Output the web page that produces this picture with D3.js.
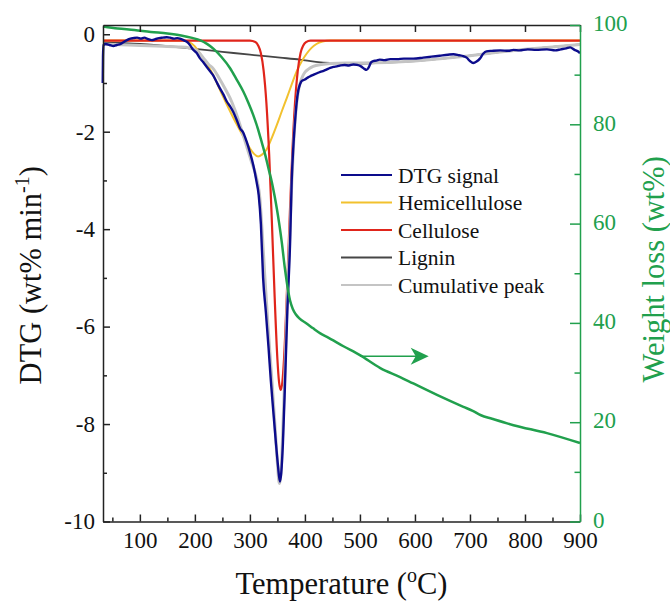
<!DOCTYPE html>
<html>
<head>
<meta charset="utf-8">
<script src="https://cdn.jsdelivr.net/npm/d3@7"></script>
<style>
  body { margin: 0; background: #fff; }
  svg text { font-family: "Liberation Serif", "Times New Roman", serif; }
</style>
</head>
<body>
<div id="chart"></div>
<script>
// temperature (°C), DTG (wt% min-1)
const dtgSignal = [
  [32.5,-1.0],[33,-0.45],[34,-0.22],[38,-0.2],[45,-0.22],[52,-0.24],[58,-0.22],[65,-0.2],[72,-0.15],
  [80,-0.1],[88,-0.08],[95,-0.07],[102,-0.09],[108,-0.07],[115,-0.1],[122,-0.12],[128,-0.1],[135,-0.08],
  [142,-0.07],[149,-0.06],[155,-0.07],[162,-0.09],[168,-0.08],[175,-0.1],[181,-0.13],[186,-0.16],
  [191,-0.22],[197,-0.32],[203,-0.38],[209,-0.49],[215,-0.57],[221,-0.66],[227,-0.75],[233,-0.84],
  [239,-0.97],[245,-1.1],[252,-1.24],[258,-1.38],[264,-1.48],[270,-1.6],[276,-1.76],[282,-1.93],
  [288,-2.02],[294,-2.2],[300,-2.42],[306,-2.68],[312,-3.02],[316,-3.3],[320,-3.9],[324,-5.0],
  [329,-5.7],[334,-6.45],[338,-7.1],[343,-7.8],[347,-8.35],[351,-8.85],[354.5,-9.18],[357,-9.0],
  [360,-8.4],[364,-7.1],[368,-5.7],[373,-4.3],[376,-3.0],[379,-2.3],[382,-1.8],[385,-1.4],[388,-1.15],
  [391,-1.03],[394,-0.96],[400,-0.93],[405,-0.89],[410,-0.86],[416,-0.83],[422,-0.8],[428,-0.77],
  [434,-0.75],[440,-0.72],[446,-0.69],[452,-0.67],[458,-0.66],[465,-0.64],[472,-0.63],[480,-0.64],
  [488,-0.62],[495,-0.63],[502,-0.66],[508,-0.71],[512,-0.73],[516,-0.68],[520,-0.58],[524,-0.55],
  [530,-0.54],[536,-0.52],[545,-0.53],[555,-0.51],[567,-0.51],[580,-0.5],[597,-0.5],[615,-0.48],
  [630,-0.46],[645,-0.44],[660,-0.42],[670,-0.41],[680,-0.43],[688,-0.45],[694,-0.48],[700,-0.55],
  [706,-0.59],[712,-0.56],[718,-0.5],[724,-0.4],[730,-0.35],[740,-0.34],[755,-0.33],[770,-0.34],
  [779,-0.32],[790,-0.33],[805,-0.31],[820,-0.32],[840,-0.31],[855,-0.33],[865,-0.31],[875,-0.29],
  [882,-0.27],[890,-0.32],[896,-0.35],[900,-0.39]
];
const hemicellulose = [
  [33,-0.13],[180,-0.13],[190,-0.16],[200,-0.25],[209,-0.39],[220,-0.58],[233,-0.83],[248,-1.2],
  [264,-1.58],[276,-1.85],[288,-2.1],[300,-2.34],[308,-2.46],[315,-2.51],[322,-2.47],[330,-2.37],
  [340,-2.12],[349,-1.86],[358,-1.58],[367,-1.31],[376,-1.03],[385,-0.76],[394,-0.56],[403,-0.4],
  [412,-0.28],[421,-0.2],[432,-0.15],[446,-0.13],[900,-0.13]
];
const cellulose = [
  [33,-0.13],[300,-0.13],[310,-0.16],[315,-0.23],[320,-0.39],[325,-0.75],[330,-1.41],[335,-2.46],
  [340,-3.86],[345,-5.39],[350,-6.67],[353,-7.14],[356,-7.3],[359,-7.14],[362,-6.67],[367,-5.39],
  [372,-3.86],[377,-2.46],[382,-1.41],[387,-0.75],[392,-0.39],[397,-0.23],[402,-0.16],[410,-0.13],
  [900,-0.13]
];
const lignin = [
  [33,-0.16],[100,-0.2],[173,-0.27],[250,-0.36],[300,-0.42],[355,-0.48],[391,-0.52],[420,-0.565],
  [446,-0.59],[475,-0.6],[506,-0.6],[550,-0.58],[600,-0.55],[650,-0.5],[700,-0.44],[750,-0.37],
  [800,-0.31],[850,-0.26],[900,-0.21]
];
const cumulative = [
  [33,-0.2],[80,-0.22],[130,-0.24],[170,-0.26],[190,-0.28],[203,-0.33],[215,-0.48],[225,-0.62],
  [233,-0.7],[245,-0.92],[255,-1.12],[264,-1.31],[273,-1.56],[282,-1.86],[290,-2.15],[297,-2.41],
  [303,-2.62],[309,-2.82],[314,-3.05],[318,-3.35],[322,-4.0],[327,-4.95],[333,-6.0],[340,-7.1],
  [346,-8.1],[350,-8.8],[353.5,-9.22],[357,-8.9],[361,-7.77],[364,-6.8],[367,-5.72],[370,-4.85],
  [373,-4.0],[376,-3.1],[379,-2.35],[382,-1.8],[385,-1.42],[388,-1.17],[392,-0.98],[396,-0.86],
  [400,-0.78],[407,-0.71],[415,-0.66],[430,-0.62],[446,-0.6],[475,-0.59],[506,-0.59],[550,-0.58],
  [600,-0.55],[650,-0.5],[700,-0.44],[750,-0.37],[800,-0.31],[850,-0.26],[900,-0.21]
];
// temperature (°C), weight (wt%)
const weightLoss = [
  [33,99.7],[60,99.3],[90,99.0],[120,98.6],[150,98.3],[175,97.9],[195,97.4],[210,96.9],[222,96.2],
  [234,95.2],[248,93.6],[264,91.3],[276,89.0],[288,86.6],[297,84.4],[306,81.9],[314,79.3],
  [321,76.6],[328,73.8],[334,71.0],[340,68.3],[345,65.5],[349,63.0],[353,60.2],[358,56.2],
  [363,51.5],[367,48.3],[370,46.2],[373,44.5],[378,42.8],[383,41.8],[390,40.9],[403,39.9],
  [415,38.9],[428,37.9],[440,37.2],[470,35.3],[500,33.5],[537,30.9],[573,29.1],[597,27.8],
  [640,25.5],[688,23.1],[705,22.3],[720,21.4],[740,20.7],[779,19.4],[840,17.8],[900,15.8]
];
const arrowT = [500, 625];
const arrowWt = 33.3;

const xTicks = [100, 200, 300, 400, 500, 600, 700, 800, 900];
const xMinor = [50, 150, 250, 350, 450, 550, 650, 750, 850];
const yTicks = [0, -2, -4, -6, -8, -10];
const yMinor = [-1, -3, -5, -7, -9];
const wTicks = [0, 20, 40, 60, 80, 100];
const wMinor = [10, 30, 50, 70, 90];

const seriesNames = ["DTG signal", "Hemicellulose", "Cellulose", "Lignin", "Cumulative peak"];
const seriesColors = ["#0c0c8c", "#f2c12e", "#e0251b", "#464646", "#c4c4c4"];
const GREEN = "#21a04d";

const width = 670, height = 602;
const margin = { top: 25, right: 90, bottom: 80.5, left: 103 };

const svg = d3.select("#chart").append("svg")
    .attr("width", width)
    .attr("height", height);

const x = d3.scaleLinear().domain([33, 900]).range([margin.left, width - margin.right]);
const yL = d3.scaleLinear().domain([-10, 0.19]).range([height - margin.bottom, margin.top]);
const yR = d3.scaleLinear().domain([0, 100]).range([height - margin.bottom, margin.top]);

const line = d3.line()
    .x(d => x(d[0]))
    .y(d => yL(d[1]))
    .curve(d3.curveMonotoneX);

const wline = d3.line()
    .x(d => x(d[0]))
    .y(d => yR(d[1]))
    .curve(d3.curveMonotoneX);

// Curves
const curves = svg.append("g").attr("fill", "none");
curves.append("path").datum(lignin).attr("d", line)
    .attr("stroke", seriesColors[3]).attr("stroke-width", 1.8);
curves.append("path").datum(hemicellulose).attr("d", line)
    .attr("stroke", seriesColors[1]).attr("stroke-width", 2);
curves.append("path").datum(cellulose).attr("d", line)
    .attr("stroke", seriesColors[2]).attr("stroke-width", 2.2);
curves.append("path").datum(cumulative).attr("d", line)
    .attr("stroke", seriesColors[4]).attr("stroke-width", 3);
curves.append("path").datum(dtgSignal).attr("d", line)
    .attr("stroke", seriesColors[0]).attr("stroke-width", 2.4);
curves.append("path").datum(weightLoss).attr("d", wline)
    .attr("stroke", GREEN).attr("stroke-width", 2.5);

// Arrow pointing to right axis
const ax0 = x(arrowT[0]), ax1 = x(arrowT[1]), ay = yR(arrowWt);
svg.append("line")
    .attr("x1", ax0).attr("x2", ax1 - 10)
    .attr("y1", ay).attr("y2", ay)
    .attr("stroke", GREEN).attr("stroke-width", 1.5);
svg.append("path")
    .attr("d", `M${ax1},${ay} L${ax1 - 18},${ay - 8.5} L${ax1 - 13},${ay} L${ax1 - 18},${ay + 8.5} Z`)
    .attr("fill", GREEN);

// Axes
function styleAxis(g, color) {
    g.selectAll("path.domain").attr("stroke", color).attr("stroke-width", 1.5);
    g.selectAll(".tick line").attr("stroke", color).attr("stroke-width", 1.5);
    g.selectAll(".tick text").attr("fill", color).style("font-size", "23px")
        .style("font-family", "'Liberation Serif', serif");
}

const yB = height - margin.bottom;
const xR = width - margin.right;

svg.append("g").attr("transform", `translate(0,${margin.top})`)
    .call(d3.axisTop(x).tickValues(xTicks).tickSize(-7).tickSizeOuter(0).tickFormat(""))
    .call(g => styleAxis(g, "#222"));

svg.append("g").attr("transform", `translate(0,${yB})`)
    .call(d3.axisBottom(x).tickValues(xMinor).tickSize(-4).tickSizeOuter(0).tickFormat(""))
    .call(g => g.select(".domain").remove())
    .call(g => styleAxis(g, "#222"));
svg.append("g").attr("transform", `translate(0,${yB})`)
    .call(d3.axisBottom(x).tickValues(xTicks).tickSize(-7).tickSizeOuter(0).tickPadding(10).tickFormat(d => String(d)))
    .call(g => styleAxis(g, "#222"))
    .call(g => g.selectAll(".tick text").attr("fill", "#111"));

svg.append("g").attr("transform", `translate(${margin.left},0)`)
    .call(d3.axisLeft(yL).tickValues(yMinor).tickSize(-4).tickSizeOuter(0).tickFormat(""))
    .call(g => g.select(".domain").remove())
    .call(g => styleAxis(g, "#222"));
svg.append("g").attr("transform", `translate(${margin.left},0)`)
    .call(d3.axisLeft(yL).tickValues(yTicks).tickSize(-7).tickSizeOuter(0).tickPadding(8).tickFormat(d => String(d)))
    .call(g => styleAxis(g, "#222"))
    .call(g => g.selectAll(".tick text").attr("fill", "#111"));

svg.append("g").attr("transform", `translate(${xR},0)`)
    .call(d3.axisRight(yR).tickValues(wMinor).tickSize(-5.5).tickSizeOuter(0).tickFormat(""))
    .call(g => g.select(".domain").remove())
    .call(g => styleAxis(g, GREEN));
svg.append("g").attr("transform", `translate(${xR},0)`)
    .call(d3.axisRight(yR).tickValues(wTicks).tickSize(-10).tickSizeOuter(0).tickPadding(13).tickFormat(d => String(d)))
    .call(g => styleAxis(g, GREEN))
    .call(g => g.selectAll(".tick text").attr("dy", "0.25em"));

// Axis titles
const xt = svg.append("text")
    .attr("x", (margin.left + xR) / 2).attr("y", 594)
    .attr("text-anchor", "middle")
    .style("font-size", "30.5px").attr("fill", "#111");
xt.append("tspan").text("Temperature (");
xt.append("tspan").attr("dy", -12).style("font-size", "20px").text("o");
xt.append("tspan").attr("dy", 12).text("C)");

const ylt = svg.append("text")
    .attr("transform", `translate(41,${(margin.top + yB) / 2 + 2}) rotate(-90)`)
    .attr("text-anchor", "middle")
    .style("font-size", "30.5px").attr("fill", "#111");
ylt.append("tspan").text("DTG (wt% min");
ylt.append("tspan").attr("dy", -12).style("font-size", "20px").text("-1");
ylt.append("tspan").attr("dy", 12).text(")");

svg.append("text")
    .attr("transform", `translate(664,${(margin.top + yB) / 2 - 4}) rotate(-90)`)
    .attr("text-anchor", "middle")
    .style("font-size", "30.5px").attr("fill", GREEN)
    .text("Weight loss (wt%)");

// Legend
const legend = svg.append("g").attr("transform", "translate(341,175)");
seriesNames.forEach((name, i) => {
    const row = legend.append("g").attr("transform", `translate(0,${i * 27.5})`);
    row.append("line").attr("x1", 0).attr("x2", 51)
        .attr("stroke", seriesColors[i]).attr("stroke-width", 2.2);
    row.append("text").attr("x", 57).attr("dy", "0.35em")
        .style("font-size", "21.5px").attr("fill", "#111").text(name);
});
</script>
</body>
</html>
